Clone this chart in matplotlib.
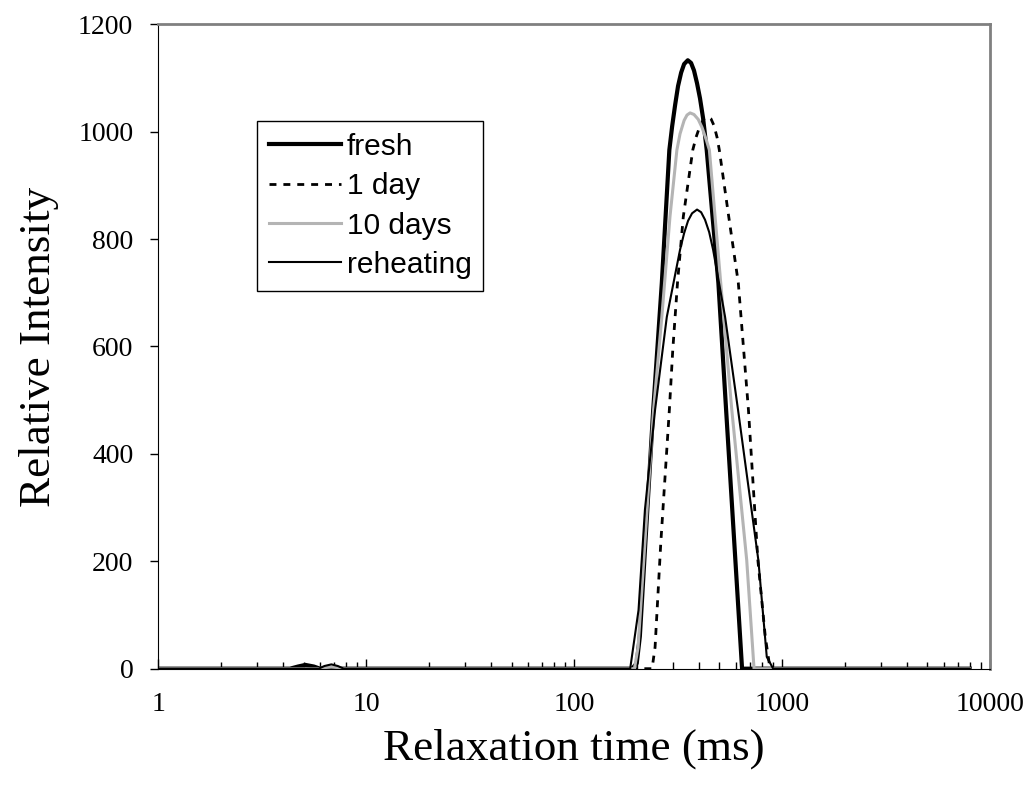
import matplotlib.pyplot as plt

# --- Data (relaxation time in ms, relative intensity) ---
fresh_t = [1, 4.3, 4.7, 5.1, 5.6, 6.0, 190, 200, 207, 240, 264, 287, 296, 306, 316,
           327, 338, 352, 365, 377, 390, 403, 417, 434, 494, 538, 642, 8000]
fresh_v = [0, 0, 4, 7, 4, 0, 0, 10, 60, 482, 718, 966, 1010, 1050, 1085,
           1110, 1126, 1133, 1128, 1114, 1090, 1062, 1025, 966, 718, 482, 0, 0]

oneday_t = [1, 237, 245, 261, 287, 298, 314, 335, 372, 386, 403, 421, 441, 455,
            471, 487, 499, 550, 616, 689, 765, 830, 875, 8000]
oneday_v = [0, 0, 40, 234, 482, 593, 718, 842, 966, 990, 1011, 1024, 1028, 1024,
            1011, 989, 966, 850, 718, 482, 202, 60, 0, 0]

tendays_t = [1, 5.9, 6.3, 6.8, 7.3, 7.8, 195, 203, 241, 264, 289, 312, 323, 338,
             349, 361, 377, 395, 412, 431, 447, 507, 573, 676, 733, 8000]
tendays_v = [0, 0, 2, 3, 2, 0, 0, 40, 482, 655, 842, 966, 996, 1021,
             1031, 1035, 1032, 1023, 1008, 986, 966, 718, 482, 202, 0, 0]

reheat_t = [1, 5.9, 6.3, 6.8, 7.3, 7.8, 186, 204, 219, 245, 279, 323, 338, 353,
            369, 390, 408, 426, 446, 466, 532, 614, 769, 844, 906, 8000]
reheat_v = [0, 0, 5, 8, 5, 0, 0, 109, 296, 482, 655, 780, 811, 834,
            848, 855, 850, 836, 813, 780, 655, 482, 202, 22, 0, 0]

# --- Plot ---
fig = plt.figure(figsize=(10.33, 7.99), dpi=100)
ax = fig.add_axes([0.1532, 0.1631, 0.8052, 0.8065])

ax.plot(fresh_t, fresh_v, color='black', lw=3.0, label='fresh')
ax.plot(oneday_t, oneday_v, color='black', lw=2.0, linestyle=(0, (2.5, 2.5)), label='1 day')
ax.plot(tendays_t, tendays_v, color='#b4b4b4', lw=2.2, label='10 days')
ax.plot(reheat_t, reheat_v, color='black', lw=1.5, label='reheating')

ax.set_xscale('log')
ax.set_xlim(1, 10000)
ax.set_ylim(0, 1200)
ax.set_yticks(range(0, 1201, 200))
ax.set_xticks([1, 10, 100, 1000, 10000])
ax.set_xticklabels(['1', '10', '100', '1000', '10000'])

ax.tick_params(axis='x', which='major', direction='in', length=7, width=1, pad=17,
               labelsize=20, top=False)
ax.tick_params(axis='x', which='minor', direction='in', length=5, width=1, top=False)
ax.tick_params(axis='y', which='major', direction='out', length=6, width=1, pad=12,
               labelsize=20, right=False)
for lab in ax.get_xticklabels() + ax.get_yticklabels():
    lab.set_fontfamily('Liberation Serif')

ax.spines['left'].set_color('black')
ax.spines['bottom'].set_color('black')
ax.spines['top'].set_color('#808080')
ax.spines['right'].set_color('#808080')
ax.spines['top'].set_linewidth(2)
ax.spines['right'].set_linewidth(2)

ax.set_xlabel('Relaxation time (ms)', fontsize=32.5, family='Liberation Serif', labelpad=8)
ax.set_ylabel('Relative Intensity', fontsize=32.5, family='Liberation Serif', labelpad=14)

leg = ax.legend(loc='upper left', bbox_to_anchor=(0.1187, 0.850), borderaxespad=0,
                prop={'family': 'Liberation Sans', 'size': 21.5}, handlelength=2.4,
                handletextpad=0.2, labelspacing=0.38, borderpad=0.4,
                fancybox=False, framealpha=1, edgecolor='black')
leg.get_frame().set_linewidth(1)

plt.savefig('out.png', dpi=100)
